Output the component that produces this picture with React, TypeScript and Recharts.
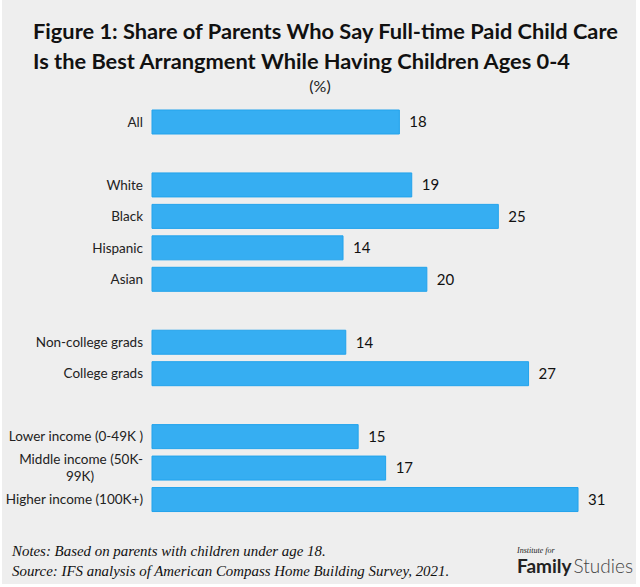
import { Bar, BarChart, LabelList, XAxis, YAxis } from "recharts";

// spacer rows are empty strings / null values
const categories = [
  "All",
  "",
  "White",
  "Black",
  "Hispanic",
  "Asian",
  "",
  "Non-college grads",
  "College grads",
  "",
  "Lower income (0-49K )",
  "Middle income (50K-\n99K)",
  "Higher income (100K+)",
];
// labels show the rounded value
const shares: (number | null)[] = [18.0, null, 18.9, 25.2, 13.9, 20.0, null, 14.1, 27.4, null, 15.0, 17.0, 31.0];

const data = categories.map((name, i) => ({ id: `r${i}`, name, value: shares[i] }));

const SANS = "Lato, 'Open Sans', sans-serif";
const BAR_FILL = "#36AEF2";

function CategoryTick(props: any) {
  const { y, payload } = props;
  const label = categories[payload.index] ?? "";
  if (!label) return null;
  const lines = label.split("\n");
  if (lines.length === 1) {
    return (
      <text x={143} y={y} dy={5} textAnchor="end" fontSize={13.5} fontFamily={SANS} fill="#222">
        {label}
      </text>
    );
  }
  return (
    <g>
      <text x={143} y={y - 9} dy={5} textAnchor="end" fontSize={13.5} fontFamily={SANS} fill="#222">
        {lines[0]}
      </text>
      <text x={80} y={y + 8} dy={5} textAnchor="middle" fontSize={13.5} fontFamily={SANS} fill="#222">
        {lines[1]}
      </text>
    </g>
  );
}

export default function App() {
  return (
    <div style={{ position: "absolute", left: 0, top: 0, width: 640, height: 587, background: "#fff" }}>
      <div
        style={{
          position: "absolute",
          left: 2,
          top: 0,
          width: 634,
          height: 584,
          background: "#EEEEEE",
        }}
      />
      <div
        style={{
          position: "absolute",
          left: 33,
          top: 16,
          fontFamily: SANS,
          fontWeight: 700,
          fontSize: 21.8,
          lineHeight: "30px",
          color: "#111",
          whiteSpace: "nowrap",
        }}
      >
        Figure 1: Share of Parents Who Say Full-time Paid Child Care
        <br />
        Is the Best Arrangment While Having Children Ages 0-4
      </div>
      <div
        style={{
          position: "absolute",
          left: 0,
          width: 640,
          top: 77,
          textAlign: "center",
          fontFamily: SANS,
          fontSize: 16,
          lineHeight: "17px",
          color: "#222",
        }}
      >
        (%)
      </div>
      <div style={{ position: "absolute", left: 0, top: 0 }}>
        <BarChart
          width={640}
          height={587}
          data={data}
          layout="vertical"
          margin={{ top: 106, right: 7, bottom: 72, left: 0 }}
          barCategoryGap={0}
        >
          <XAxis type="number" domain={[0, 35]} hide />
          <YAxis
            type="category"
            dataKey="id"
            width={152}
            axisLine={false}
            tickLine={false}
            interval={0}
            tick={<CategoryTick />}
          />
          <Bar
            dataKey="value"
            fill={BAR_FILL}
            stroke="#22A3EC"
            strokeWidth={1}
            barSize={24}
            isAnimationActive={false}
          >
            <LabelList
              dataKey="value"
              position="right"
              offset={10}
              fill="#111"
              fontSize={15}
              fontFamily={SANS}
              formatter={(v: any) => (v == null ? "" : Math.round(v))}
            />
          </Bar>
        </BarChart>
      </div>
      <div
        style={{
          position: "absolute",
          left: 12,
          top: 541,
          fontFamily: "'Liberation Serif', serif",
          fontStyle: "italic",
          fontSize: 14.9,
          lineHeight: "20px",
          color: "#111",
          whiteSpace: "nowrap",
        }}
      >
        Notes: Based on parents with children under age 18.
        <br />
        Source: IFS analysis of American Compass Home Building Survey, 2021.
      </div>
      <div style={{ position: "absolute", left: 517, top: 546, color: "#222", whiteSpace: "nowrap" }}>
        <div style={{ fontFamily: "'Liberation Serif', serif", fontStyle: "italic", fontSize: 8, lineHeight: "9px" }}>
          Institute for
        </div>
        <div style={{ fontFamily: SANS, fontSize: 19, lineHeight: "22px" }}>
          <span style={{ fontWeight: 700 }}>Family</span>
          <span style={{ fontWeight: 300, color: "#444", marginLeft: 2 }}>Studies</span>
        </div>
      </div>
    </div>
  );
}
